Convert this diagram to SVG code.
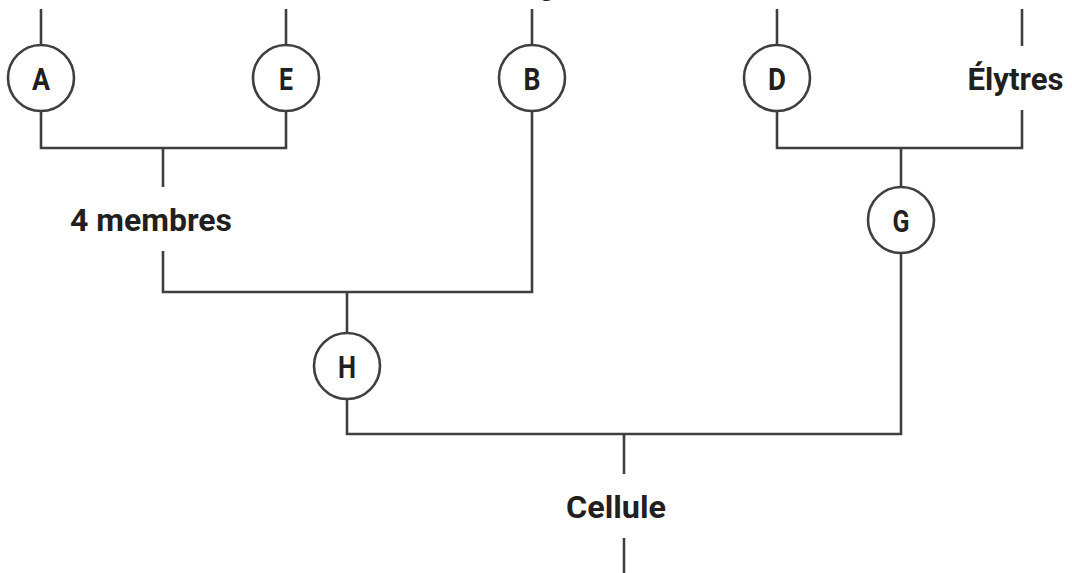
<svg xmlns="http://www.w3.org/2000/svg" width="1072" height="573" viewBox="0 0 1072 573">
  <style>
    .ln { fill: none; stroke: #3f3f3f; stroke-width: 2.6; stroke-linejoin: miter; stroke-linecap: butt; }
    .nd { fill: #ffffff; stroke: #3f3f3f; stroke-width: 2.6; }
    .lb { font-family: Roboto, "Liberation Sans", sans-serif; font-weight: 700; font-size: 32px; fill: #231f20; text-anchor: middle; }
  </style>
  <rect width="1072" height="573" fill="#ffffff"/>
  <g id="connectors">
    <line class="ln" x1="41" y1="9" x2="41" y2="45"/>
    <line class="ln" x1="286" y1="9" x2="286" y2="45"/>
    <line class="ln" x1="532" y1="9" x2="532" y2="45"/>
    <line class="ln" x1="777" y1="9" x2="777" y2="45"/>
    <line class="ln" x1="1022" y1="9" x2="1022" y2="46"/>
    <path class="ln" d="M41 111 V148 H286 V111"/>
    <line class="ln" x1="163" y1="148" x2="163" y2="187"/>
    <path class="ln" d="M163 251 V292 H532 V111"/>
    <line class="ln" x1="347" y1="292" x2="347" y2="334"/>
    <path class="ln" d="M347 400 V434 H901 V253"/>
    <path class="ln" d="M777 111 V148 H1022 V110"/>
    <line class="ln" x1="901" y1="148" x2="901" y2="187"/>
    <line class="ln" x1="624" y1="434" x2="624" y2="474"/>
    <line class="ln" x1="624" y1="538" x2="624" y2="573"/>
  </g>
  <g id="top-label"><text class="lb" x="547" y="-5">g</text></g>
  <g id="node-A"><circle class="nd" cx="41" cy="78" r="33"/><text class="lb" x="41" y="90" textLength="18" lengthAdjust="spacingAndGlyphs">A</text></g>
  <g id="node-E"><circle class="nd" cx="286" cy="78" r="33"/><text class="lb" x="286" y="90" textLength="14" lengthAdjust="spacingAndGlyphs">E</text></g>
  <g id="node-B"><circle class="nd" cx="532" cy="78" r="33"/><text class="lb" x="532" y="90" textLength="17" lengthAdjust="spacingAndGlyphs">B</text></g>
  <g id="node-D"><circle class="nd" cx="777" cy="78" r="33"/><text class="lb" x="777" y="90" textLength="18" lengthAdjust="spacingAndGlyphs">D</text></g>
  <g id="node-G"><circle class="nd" cx="901" cy="220" r="33"/><text class="lb" x="901" y="232" textLength="17" lengthAdjust="spacingAndGlyphs">G</text></g>
  <g id="node-H"><circle class="nd" cx="347" cy="366" r="33"/><text class="lb" x="347" y="378" textLength="18" lengthAdjust="spacingAndGlyphs">H</text></g>
  <g id="label-elytres"><text class="lb" x="1015.5" y="90" textLength="96" lengthAdjust="spacingAndGlyphs">Élytres</text></g>
  <g id="label-4membres"><text class="lb" x="151" y="231" textLength="162" lengthAdjust="spacingAndGlyphs">4 membres</text></g>
  <g id="label-cellule"><text class="lb" x="616" y="518" textLength="100" lengthAdjust="spacingAndGlyphs">Cellule</text></g>
</svg>
